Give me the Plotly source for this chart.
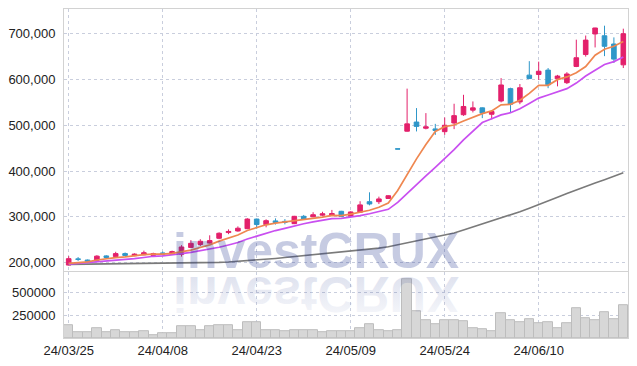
import plotly.graph_objects as go

dates = ["24/03/25", "24/03/26", "24/03/27", "24/03/28", "24/03/29",
         "24/04/01", "24/04/02", "24/04/03", "24/04/04", "24/04/05",
         "24/04/08", "24/04/09", "24/04/11", "24/04/12", "24/04/15",
         "24/04/16", "24/04/17", "24/04/18", "24/04/19", "24/04/22",
         "24/04/23", "24/04/24", "24/04/25", "24/04/26", "24/04/29",
         "24/04/30", "24/05/02", "24/05/03", "24/05/07", "24/05/08",
         "24/05/09", "24/05/10", "24/05/13", "24/05/14", "24/05/16",
         "24/05/17", "24/05/20", "24/05/21", "24/05/22", "24/05/23",
         "24/05/24", "24/05/27", "24/05/28", "24/05/29", "24/05/30",
         "24/05/31", "24/06/03", "24/06/04", "24/06/05", "24/06/07",
         "24/06/10", "24/06/11", "24/06/12", "24/06/13", "24/06/14",
         "24/06/17", "24/06/18", "24/06/19", "24/06/20", "24/06/21"]

# prices in thousands of won
open_k = [194.5, 208, 205.5, 205, 214.5, 213, 219.5, 215, 217, 215.5,
          221, 218.5, 218, 233, 239.5, 242.5, 253, 265.5, 269, 274,
          295, 283, 291, 290, 285, 301, 300, 303.5, 304, 312,
          301, 310, 333, 333, 340, 448.5, 487, 507, 493.5, 492,
          486, 505, 523, 533, 538, 524, 553, 580, 551, 609.5,
          611, 620.5, 601.5, 593, 628.5, 654.5, 699.5, 695.5, 677.5, 632]
high_k = [214, 212, 206.5, 216, 216, 223.5, 222, 220, 226, 221.5,
          224, 226, 238, 249, 251, 259.5, 266, 272.5, 279, 297,
          296, 294.5, 296.5, 295, 302, 304, 310, 311, 315, 313,
          312, 334, 353.5, 344, 347, 448.5, 580, 537.5, 526.5, 503,
          517, 547, 566.5, 552, 539, 531, 603, 582, 590, 640,
          639, 625, 610, 616, 687, 696, 713, 717.5, 692, 711]
low_k = [193.5, 203.5, 202, 204, 210, 212, 214.5, 214, 216, 214.5,
         217, 217.5, 213, 232, 236, 241.5, 251, 262, 267.5, 273,
         274, 277, 283, 283.5, 284, 294, 299, 302, 302, 299.5,
         300, 309, 325, 328, 339, 448, 486, 486.5, 491, 479,
         479, 491.5, 520.5, 528, 515.5, 513, 550, 528, 546, 601,
         599, 581, 585, 590, 627, 650, 670, 651, 636, 625]
close_k = [208.5, 207, 203, 214, 211, 219.5, 215.5, 218.5, 221.5, 219.5,
           218.5, 224, 234, 242, 246.5, 248, 264, 268, 275, 295,
           283, 291.5, 287.5, 288, 301, 295, 304.5, 306.5, 307, 300.5,
           310.5, 326, 328, 339, 346, 448, 503, 497.5, 496.5, 488.5,
           500, 521, 541, 538, 526.5, 530, 588, 546, 582, 602,
           618, 588.5, 607.5, 612, 647.5, 686, 712.5, 672.5, 644.5, 700]

ma5_k = [198, 200, 201.5, 205.5, 208.7, 210.7, 212.5, 215.6, 217.1, 218.6,
         218.4, 220.1, 223.4, 227.3, 232.8, 238.7, 246.8, 253.5, 260.2, 270.0,
         277.0, 282.5, 286.3, 288.9, 290.1, 292.5, 295.1, 299.1, 302.9, 302.7,
         305.8, 310.1, 314.3, 320.7, 329.9, 357.4, 392.8, 426.6, 458.1, 486.5,
         496.9, 500.5, 509.3, 517.6, 525.3, 531.3, 544.7, 545.7, 554.5, 569.6,
         587.2, 587.3, 599.6, 605.6, 614.7, 628.3, 653.1, 666.1, 672.6, 683.1]
ma10_k = [196.5, 198, 199.5, 201, 202.5, 204.5, 206.5, 208.5, 211, 213.7,
          214.6, 216.3, 219.5, 222.2, 225.7, 228.6, 233.5, 238.4, 243.8, 251.4,
          257.9, 264.7, 269.9, 274.6, 280.0, 284.8, 288.8, 292.7, 295.9, 296.4,
          299.1, 302.6, 306.7, 311.8, 316.3, 331.6, 351.4, 370.5, 389.4, 408.2,
          427.2, 446.7, 468.0, 487.9, 505.9, 514.1, 522.6, 527.5, 536.1, 547.5,
          559.3, 566.0, 572.6, 580.0, 592.1, 607.7, 620.2, 632.8, 639.1, 648.9]
ma60_k = [196, 196.2, 196.4, 196.6, 196.8, 197, 197.2, 197.4, 197.6, 197.8,
          198, 198.3, 198.6, 199, 199.3, 199.6, 200.4, 201.2, 202.5, 204,
          205.5, 207, 209, 211, 213, 215, 217, 219, 221, 222.8,
          224.6, 226.4, 228.5, 231.5, 234.6, 239, 243, 247, 251, 255,
          259.5, 264.5, 271, 277.5, 284, 290.5, 297, 304, 311, 318.5,
          326, 334.5, 342.5, 351, 359, 367, 374, 381, 388.5, 396]

volume_k = [138, 62, 62, 113, 62, 91, 62, 62, 73, 29,
            51, 51, 127, 127, 84, 127, 138, 138, 91, 171,
            171, 84, 84, 73, 91, 84, 84, 62, 73, 73,
            73, 113, 149, 84, 73, 91, 656, 297, 192, 149,
            192, 203, 181, 113, 102, 80, 279, 192, 171, 214,
            160, 171, 113, 160, 330, 225, 192, 290, 214, 366]

x_tick_dates = ["24/03/25", "24/04/08", "24/04/23", "24/05/09", "24/05/24", "24/06/10"]
price_ticks = [200000, 300000, 400000, 500000, 600000, 700000]
price_tick_text = ["200,000", "300,000", "400,000", "500,000", "600,000", "700,000"]
vol_ticks = [250000, 500000]
vol_tick_text = ["250000", "500000"]
watermark = "investCRUX"

k = lambda arr: [v * 1000 for v in arr]

PINK = "#e3206b"
BLUE = "#2f97c9"
GRID = "#c9cedd"
LINE = "#d2d2d2"
FONT = "Liberation Sans, Arial, sans-serif"

fig = go.Figure()
fig.add_trace(go.Candlestick(
    x=dates, open=k(open_k), high=k(high_k), low=k(low_k), close=k(close_k),
    xaxis="x", yaxis="y", whiskerwidth=0,
    increasing=dict(line=dict(color=PINK, width=1), fillcolor=PINK),
    decreasing=dict(line=dict(color=BLUE, width=1), fillcolor=BLUE),
    hoverinfo="skip"))
fig.add_trace(go.Scatter(x=dates, y=k(ma60_k), mode="lines", xaxis="x", yaxis="y",
                         line=dict(color="#7a7a7a", width=1.6), hoverinfo="skip"))
fig.add_trace(go.Scatter(x=dates, y=k(ma10_k), mode="lines", xaxis="x", yaxis="y",
                         line=dict(color="#c94ff0", width=1.7), hoverinfo="skip"))
fig.add_trace(go.Scatter(x=dates, y=k(ma5_k), mode="lines", xaxis="x", yaxis="y",
                         line=dict(color="#ef8750", width=1.7), hoverinfo="skip"))
fig.add_trace(go.Bar(x=dates, y=k(volume_k), xaxis="x2", yaxis="y2",
                     marker=dict(color="#d7d7d7", line=dict(color="#bdbdbd", width=1)),
                     hoverinfo="skip"))

axis_common = dict(showgrid=True, gridcolor=GRID, griddash="dot", gridwidth=1,
                   zeroline=False, linecolor=LINE, linewidth=1, automargin=False,
                   tickfont=dict(family=FONT, size=13, color="#222222"))

fig.update_layout(
    width=637, height=366,
    margin=dict(l=64, r=9, t=9, b=28),
    paper_bgcolor="white", plot_bgcolor="white",
    showlegend=False, bargap=0,
    xaxis=dict(domain=[0, 1], anchor="y", type="category", range=[-0.5, 59.5],
               tickvals=x_tick_dates, showticklabels=False, ticks="",
               showline=True, mirror=True, rangeslider=dict(visible=False),
               **axis_common),
    xaxis2=dict(domain=[0, 1], anchor="y2", type="category", range=[-0.5, 59.5],
                matches="x", tickvals=x_tick_dates, ticktext=x_tick_dates, ticks="",
                ticklabelstandoff=0, showline=True, mirror=False, **axis_common),
    yaxis=dict(domain=[0.2036, 1], anchor="x", range=[181500, 754000],
               tickvals=price_ticks, ticktext=price_tick_text, ticks="",
               ticklabelstandoff=5, showline=True, mirror=True, **axis_common),
    yaxis2=dict(domain=[0, 0.2], anchor="x2", range=[0, 730000],
                tickvals=vol_ticks, ticktext=vol_tick_text, ticks="",
                ticklabelstandoff=5, showline=True, mirror=True, **axis_common),
    annotations=[
        dict(text=watermark, xref="paper", yref="paper", x=0.4468, y=0.263,
             xanchor="center", yanchor="middle", showarrow=False,
             font=dict(family=FONT, size=50, weight="bold", color="rgba(35,55,143,0.26)")),
        dict(text=watermark, xref="paper", yref="paper", x=0.4468, y=0.1337,
             xanchor="center", yanchor="middle", showarrow=False,
             font=dict(family=FONT, size=50, weight="bold", color="rgba(35,55,143,0.11)")),
    ],
)

post = """
document.body.style.margin = '0';
document.body.style.padding = '0';
var gd = document.getElementById('{plot_id}');
function flipReflection() {
  var el = gd.querySelector('.annotation[data-index="1"]');
  if (!el) { return; }
  el.style.transformBox = 'fill-box';
  el.style.transformOrigin = 'center';
  el.style.transform = 'scale(1,-1)';
  var svg = el.ownerSVGElement;
  var ns = 'http://www.w3.org/2000/svg';
  if (svg && !document.getElementById('wmgrad')) {
    var defs = svg.querySelector('defs');
    if (!defs) { defs = document.createElementNS(ns, 'defs'); svg.insertBefore(defs, svg.firstChild); }
    var lg = document.createElementNS(ns, 'linearGradient');
    lg.setAttribute('id', 'wmgrad');
    lg.setAttribute('x1', '0'); lg.setAttribute('y1', '0');
    lg.setAttribute('x2', '0'); lg.setAttribute('y2', '1');
    [['0', 0.03], ['1', 0.17]].forEach(function (s) {
      var st = document.createElementNS(ns, 'stop');
      st.setAttribute('offset', s[0]);
      st.setAttribute('stop-color', 'rgb(35,55,143)');
      st.setAttribute('stop-opacity', String(s[1]));
      lg.appendChild(st);
    });
    defs.appendChild(lg);
  }
  var t = el.querySelector('text');
  if (t) { t.style.fill = 'url(#wmgrad)'; t.style.fillOpacity = '1'; }
}
flipReflection();
if (gd.on) { gd.on('plotly_afterplot', flipReflection); }
"""

fig.write_html("out.html", post_script=post, config={"displayModeBar": False})
